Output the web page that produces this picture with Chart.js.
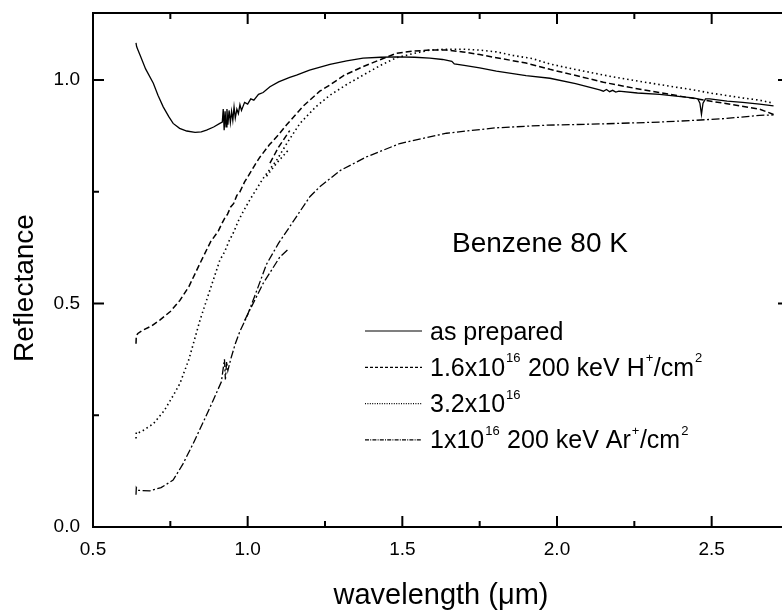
<!DOCTYPE html>
<html>
<head>
<meta charset="utf-8">
<script src="https://cdn.jsdelivr.net/npm/chart.js@4"></script>
<style>
  html, body { margin: 0; padding: 0; background: #fff; overflow: hidden; }
  #wrap { width: 782px; height: 612px; overflow: hidden; }
  canvas { display: block; }
</style>
</head>
<body>
<div id="wrap"><canvas id="chart" width="790" height="612"></canvas></div>
<script>
// as prepared (solid)
const asPreparedX = [0.639,0.641,0.645,0.652,0.67,0.695,0.71,0.727,0.745,0.759,0.78,0.803,0.83,0.85,0.867,0.89,0.91,0.918,0.921,0.924,0.927,0.93,0.933,0.936,0.94,0.944,0.948,0.952,0.956,0.96,0.965,0.97,0.975,0.98,0.99,1.0,1.01,1.02,1.035,1.05,1.072,1.1,1.136,1.158,1.2,1.266,1.32,1.373,1.43,1.481,1.54,1.589,1.63,1.66,1.668,1.7,1.75,1.804,1.9,1.977,2.06,2.138,2.15,2.16,2.17,2.18,2.19,2.2,2.26,2.332,2.4,2.44,2.455,2.462,2.467,2.472,2.48,2.494,2.55,2.6,2.655,2.7];
const asPreparedY = [1.083,1.075,1.068,1.056,1.025,0.993,0.966,0.94,0.918,0.903,0.892,0.886,0.883,0.884,0.888,0.895,0.903,0.906,0.935,0.888,0.93,0.895,0.935,0.9,0.932,0.905,0.93,0.91,0.94,0.915,0.935,0.925,0.945,0.932,0.95,0.946,0.958,0.955,0.968,0.972,0.985,0.996,1.006,1.011,1.022,1.035,1.043,1.049,1.051,1.052,1.051,1.049,1.046,1.042,1.036,1.033,1.027,1.02,1.01,1.004,0.992,0.978,0.975,0.979,0.974,0.977,0.973,0.975,0.971,0.968,0.963,0.96,0.958,0.948,0.923,0.948,0.958,0.958,0.953,0.95,0.946,0.942];

// 1.6x10^16 H+ (dashed)
const h16X = [0.639,0.64,0.645,0.66,0.69,0.716,0.75,0.781,0.81,0.846,0.88,0.905,0.916,0.925,0.935,0.945,0.955,0.965,0.975,0.99,1.007,1.025,1.04,1.07,1.1,1.126,1.18,1.233,1.266,1.31,1.373,1.43,1.481,1.54,1.589,1.64,1.696,1.75,1.804,1.9,1.977,2.074,2.15,2.224,2.33,2.44,2.55,2.655,2.7];
const h16Y = [0.41,0.428,0.433,0.44,0.45,0.463,0.482,0.507,0.538,0.59,0.638,0.662,0.678,0.69,0.7,0.716,0.724,0.742,0.75,0.772,0.791,0.812,0.828,0.855,0.878,0.9,0.942,0.975,0.989,1.01,1.03,1.046,1.06,1.065,1.067,1.067,1.063,1.057,1.05,1.038,1.024,1.008,0.995,0.985,0.972,0.959,0.947,0.935,0.923];
const h16TailX = [1.072,1.1,1.136];
const h16TailY = [0.814,0.85,0.887];

// 3.2x10^16 (dotted)
const h32X = [0.639,0.64,0.645,0.66,0.695,0.73,0.76,0.781,0.81,0.846,0.867,0.89,0.91,0.925,0.94,0.955,0.97,0.985,1.007,1.05,1.094,1.13,1.169,1.22,1.266,1.32,1.373,1.43,1.481,1.54,1.589,1.643,1.696,1.75,1.804,1.858,1.92,1.977,2.05,2.181,2.33,2.44,2.504,2.6,2.655,2.7];
const h32Y = [0.198,0.212,0.21,0.215,0.231,0.26,0.295,0.321,0.375,0.463,0.507,0.555,0.597,0.615,0.64,0.66,0.685,0.705,0.732,0.78,0.821,0.862,0.903,0.94,0.966,0.99,1.011,1.033,1.05,1.06,1.067,1.069,1.069,1.067,1.063,1.055,1.048,1.036,1.025,1.007,0.99,0.978,0.97,0.96,0.955,0.948];
const h32TailX = [1.061,1.095,1.131];
const h32TailY = [0.785,0.815,0.843];

// 1x10^16 Ar+ (dash-dot)
const arX = [0.639,0.64,0.645,0.684,0.72,0.759,0.79,0.824,0.86,0.889,0.915,0.925,0.928,0.932,0.936,0.945,0.96,0.975,0.997,1.03,1.061,1.1,1.136,1.201,1.233,1.3,1.384,1.492,1.643,1.8,1.966,2.15,2.332,2.45,2.547,2.655,2.7];
const arY = [0.072,0.088,0.082,0.081,0.088,0.105,0.14,0.187,0.24,0.284,0.325,0.375,0.33,0.37,0.35,0.375,0.41,0.438,0.47,0.53,0.588,0.635,0.672,0.739,0.761,0.798,0.828,0.858,0.881,0.893,0.899,0.902,0.906,0.91,0.914,0.921,0.922];
const arTailX = [0.99,1.05,1.104,1.134];
const arTailY = [0.462,0.545,0.604,0.623];

const xMajorTicks = [0.5, 1.0, 1.5, 2.0, 2.5];
const xMinorTicks = [0.75, 1.25, 1.75, 2.25];
const yMajorTicks = [0.0, 0.5, 1.0];
const yMinorTicks = [0.25, 0.75];

// legend text: [text, superscript?]
const legendLabels = [
  [["as prepared", false]],
  [["1.6x10", false], ["16", true], [" 200 keV H", false], ["+", true], ["/cm", false], ["2", true]],
  [["3.2x10", false], ["16", true]],
  [["1x10", false], ["16", true], [" 200 keV Ar", false], ["+", true], ["/cm", false], ["2", true]]
];

const FONT = "'Liberation Sans', Arial, Helvetica, sans-serif";

function toPoints(xs, ys) {
  return xs.map((x, i) => ({ x: x, y: ys[i] }));
}

const styles = [
  { dash: [], width: 1.3, legendDash: [] },
  { dash: [6, 3], width: 1.5, legendDash: [3, 2] },
  { dash: [1.5, 3], width: 1.6, legendDash: [1, 1.4] },
  { dash: [8, 2.5, 2, 2.5], width: 1.3, legendDash: [4, 1.2, 1, 1.2] }
];

function lineSet(points, style) {
  return {
    data: points,
    borderColor: "#000",
    borderWidth: style.width,
    borderDash: style.dash,
    pointRadius: 0,
    tension: 0,
    fill: false
  };
}

const datasets = [
  lineSet(toPoints(asPreparedX, asPreparedY), styles[0]),
  lineSet(toPoints(h16X, h16Y), styles[1]),
  lineSet(toPoints(h32X, h32Y), styles[2]),
  lineSet(toPoints(arX, arY), styles[3]),
  lineSet(toPoints(h16TailX, h16TailY), styles[1]),
  lineSet(toPoints(h32TailX, h32TailY), styles[2]),
  lineSet(toPoints(arTailX, arTailY), styles[3])
];

// frame, inward ticks, legend and annotations
const decorations = {
  id: "decorations",
  afterDraw(chart) {
    const { ctx, chartArea: a, scales: { x, y } } = chart;
    ctx.save();
    ctx.strokeStyle = "#000";
    ctx.lineWidth = 2;
    ctx.setLineDash([]);
    ctx.strokeRect(a.left, a.top, a.right - a.left, a.bottom - a.top);

    ctx.beginPath();
    const xt = (v, len) => {
      const px = x.getPixelForValue(v);
      ctx.moveTo(px, a.bottom); ctx.lineTo(px, a.bottom - len);
      ctx.moveTo(px, a.top); ctx.lineTo(px, a.top + len);
    };
    const yt = (v, len) => {
      const py = y.getPixelForValue(v);
      ctx.moveTo(a.left, py); ctx.lineTo(a.left + len, py);
      ctx.moveTo(a.right, py); ctx.lineTo(a.right - len, py);
    };
    xMajorTicks.forEach(v => xt(v, 11));
    xMinorTicks.forEach(v => xt(v, 6));
    yMajorTicks.forEach(v => yt(v, 11));
    yMinorTicks.forEach(v => yt(v, 6));
    ctx.stroke();

    // y title
    ctx.fillStyle = "#000";
    ctx.font = "28px " + FONT;
    ctx.save();
    ctx.translate(33, (a.top + a.bottom) / 2 + 18);
    ctx.rotate(-Math.PI / 2);
    ctx.textAlign = "center";
    ctx.textBaseline = "alphabetic";
    ctx.fillText("Reflectance", 0, 0);
    ctx.restore();

    // annotation
    ctx.textAlign = "left";
    ctx.textBaseline = "alphabetic";
    ctx.font = "28px " + FONT;
    ctx.fillText("Benzene 80 K", a.left + 359, a.top + 239);

    // legend
    const lx0 = a.left + 272, lx1 = a.left + 329, tx = a.left + 337;
    legendLabels.forEach((parts, i) => {
      const ly = a.top + 318 + i * 36.3;
      ctx.beginPath();
      ctx.lineWidth = 1.2;
      ctx.setLineDash(styles[i].legendDash);
      ctx.moveTo(lx0, ly);
      ctx.lineTo(lx1, ly);
      ctx.stroke();
      ctx.setLineDash([]);
      let cx = tx;
      parts.forEach(([text, sup]) => {
        if (sup) {
          ctx.font = "13px " + FONT;
          ctx.fillText(text, cx + 1, ly - 5);
          cx += ctx.measureText(text).width + 1.5;
        } else {
          ctx.font = "25px " + FONT;
          ctx.fillText(text, cx, ly + 8.5);
          cx += ctx.measureText(text).width;
        }
      });
    });
    ctx.restore();
  }
};

new Chart(document.getElementById("chart").getContext("2d"), {
  type: "line",
  data: { datasets: datasets },
  options: {
    responsive: false,
    animation: false,
    events: [],
    layout: { padding: { left: 0, top: 13, right: 1, bottom: 0 } },
    plugins: { legend: { display: false }, tooltip: { enabled: false } },
    scales: {
      x: {
        type: "linear",
        min: 0.5,
        max: 2.75,
        afterFit: s => {
          s.height = 85;
          s.paddingLeft = 0; s.paddingRight = 0; s.paddingTop = 0; s.paddingBottom = 0;
        },
        grid: { display: false, drawTicks: false },
        border: { display: false },
        ticks: {
          stepSize: 0.5,
          padding: 11,
          color: "#000",
          font: { family: FONT, size: 19 },
          maxRotation: 0,
          autoSkip: false,
          callback: v => (Math.abs(v * 2 - Math.round(v * 2)) < 1e-6 ? Number(v).toFixed(1) : "")
        },
        title: {
          display: true,
          text: "wavelength (\u03bcm)",
          color: "#000",
          font: { family: FONT, size: 29, lineHeight: 1 },
          padding: { top: 0, bottom: 2 }
        }
      },
      y: {
        type: "linear",
        min: 0,
        max: 1.15,
        afterFit: s => {
          s.width = 93;
          s.paddingLeft = 0; s.paddingRight = 0; s.paddingTop = 0; s.paddingBottom = 0;
        },
        grid: { display: false, drawTicks: false },
        border: { display: false },
        ticks: {
          stepSize: 0.5,
          padding: 13,
          color: "#000",
          font: { family: FONT, size: 19 },
          callback: v => (Math.abs(v * 2 - Math.round(v * 2)) < 1e-6 ? Number(v).toFixed(1) : "")
        }
      }
    }
  },
  plugins: [decorations]
});
</script>
</body>
</html>
